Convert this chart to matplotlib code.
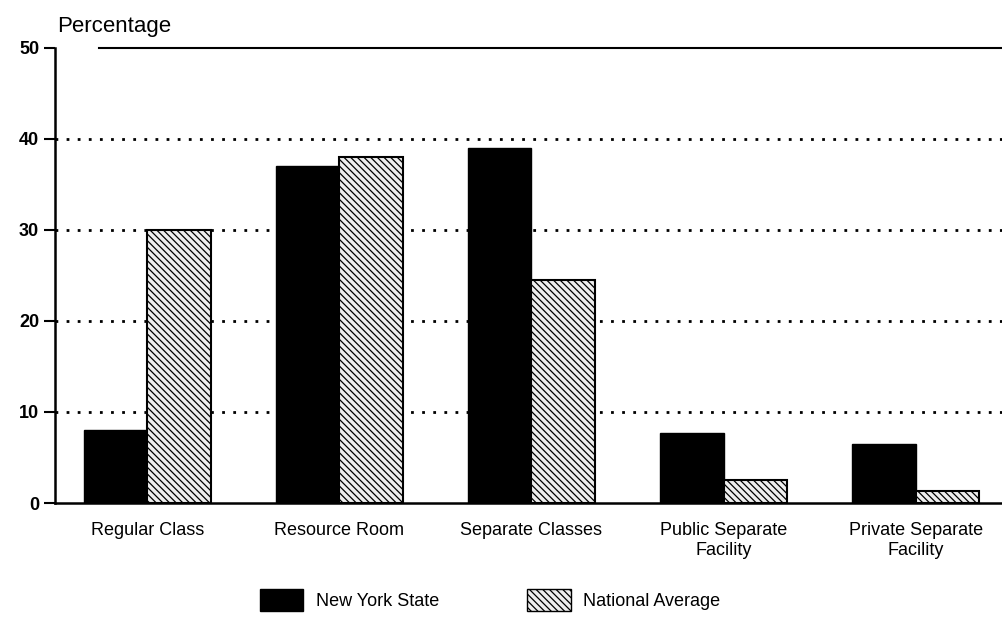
import numpy as np
import matplotlib.pyplot as plt
from matplotlib.patches import Patch

categories = ['Regular Class', 'Resource Room', 'Separate Classes',
              'Public Separate\nFacility', 'Private Separate\nFacility']
new_york = [8, 37, 39, 7.7, 6.5]
national = [30, 38, 24.5, 2.5, 1.3]
yticks = [0, 10, 20, 30, 40, 50]

plt.rcParams['font.family'] = ['Liberation Sans', 'DejaVu Sans']
plt.rcParams['hatch.linewidth'] = 0.9

fig = plt.figure(figsize=(10.02, 6.21), dpi=100)
ax = fig.add_axes([0.055, 0.19, 0.945, 0.733])

x = np.arange(len(categories))
w = 0.33
ax.bar(x - w / 2, new_york, w, color='black', edgecolor='black', zorder=3)
ax.bar(x + w / 2, national, w, color='#eeeeee', edgecolor='black',
       hatch='\\\\\\\\\\', linewidth=1.5, zorder=3)

for y in yticks[1:-1]:
    ax.axhline(y, color='black', linestyle=(0, (1, 3)), linewidth=2, zorder=1)
ax.plot([-0.25, 4.6], [50, 50], color='black', linewidth=1.5, zorder=1,
        clip_on=False)

ax.set_xlim(-0.48, 4.45)
ax.set_ylim(0, 50)
ax.set_yticks(yticks)
ax.set_yticklabels([str(v) for v in yticks], fontsize=13, fontweight='bold')
ax.set_xticks(x)
ax.set_xticklabels(categories, fontsize=13, linespacing=1.2)
ax.tick_params(axis='x', length=0, pad=14)
ax.tick_params(axis='y', length=8, width=1.5, direction='out')
ax.spines['top'].set_visible(False)
ax.spines['right'].set_visible(False)
ax.spines['left'].set_linewidth(1.8)
ax.spines['bottom'].set_linewidth(1.8)

fig.text(0.057, 0.948, 'Percentage', fontsize=16)

handles = [Patch(facecolor='black', edgecolor='black'),
           Patch(facecolor='#eeeeee', edgecolor='black', hatch='\\\\\\\\\\')]
fig.legend(handles, ['New York State', 'National Average'], loc='lower center',
           bbox_to_anchor=(0.489, -0.01), ncol=2, frameon=False, fontsize=13,
           handlelength=2.4, handleheight=1.5, handletextpad=0.7,
           columnspacing=4.9)

fig.savefig('out.png', dpi=100)
